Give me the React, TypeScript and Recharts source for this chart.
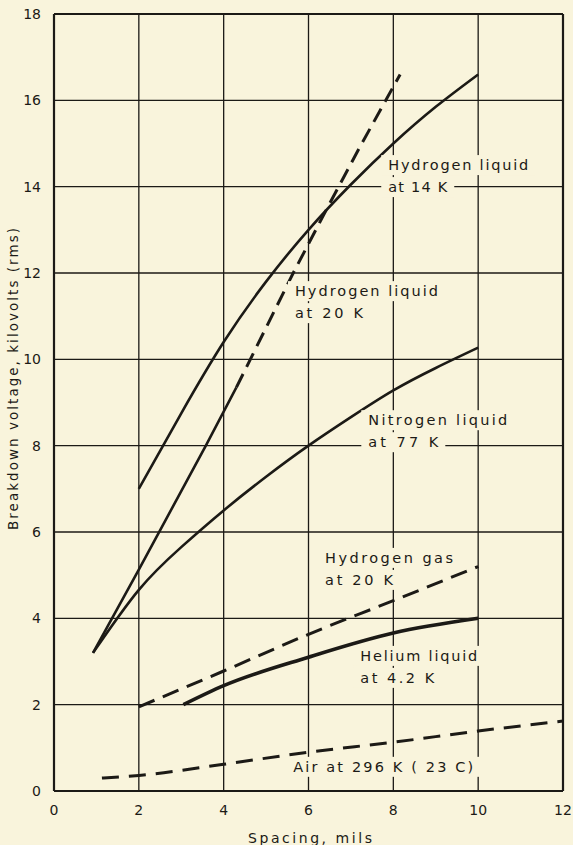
import React from 'react';
import { LineChart, Line, XAxis, YAxis, CartesianGrid, ReferenceLine, ReferenceDot, Label } from 'recharts';

const PAPER = '#f9f4dc';
const INK = '#1c1a16';
const FONT = '"DejaVu Sans", "Noto Sans", sans-serif';

const xTicks = [0, 2, 4, 6, 8, 10, 12];
const yTicks = [0, 2, 4, 6, 8, 10, 12, 14, 16, 18];

// Hydrogen liquid at 14 K (solid)
const h14Spacing = [2, 3, 4, 5, 6, 7, 8, 9, 10];
const h14Voltage = [7.0, 8.75, 10.4, 11.8, 13.0, 14.05, 15.0, 15.85, 16.6];

// Hydrogen liquid at 20 K (solid part, then dashed part)
const h20SolidSpacing = [0.92, 2, 3.58, 4.3];
const h20SolidVoltage = [3.2, 5.13, 8.0, 9.35];
const h20DashSpacing = [4.3, 5.64, 6.44, 7.2, 8.16];
const h20DashVoltage = [9.35, 12.0, 13.5, 14.9, 16.6];

// Nitrogen liquid at 77 K (solid)
const n2Spacing = [0.92, 2, 3, 4, 5, 6, 7, 8, 9, 10];
const n2Voltage = [3.2, 4.66, 5.65, 6.5, 7.28, 8.0, 8.66, 9.28, 9.8, 10.27];

// Hydrogen gas at 20 K (dashed)
const h2gasSpacing = [2, 4, 6, 8, 10];
const h2gasVoltage = [1.95, 2.78, 3.63, 4.41, 5.2];

// Helium liquid at 4.2 K (thick solid)
const heSpacing = [3.05, 4, 6, 8, 10];
const heVoltage = [2.0, 2.44, 3.1, 3.66, 4.0];

// Air at 296 K (dashed)
const airSpacing = [1.13, 2, 4, 6, 8, 10, 12];
const airVoltage = [0.3, 0.36, 0.62, 0.9, 1.13, 1.39, 1.62];

const zip = (xs: number[], ys: number[]) => xs.map((x, i) => ({ x, y: ys[i] }));

const h14Data = zip(h14Spacing, h14Voltage);
const h20SolidData = zip(h20SolidSpacing, h20SolidVoltage);
const h20DashData = zip(h20DashSpacing, h20DashVoltage);
const n2Data = zip(n2Spacing, n2Voltage);
const h2gasData = zip(h2gasSpacing, h2gasVoltage);
const heData = zip(heSpacing, heVoltage);
const airData = zip(airSpacing, airVoltage);

type LabelLine = { text: string; w: number };
type Annot = { x: number; y: number; lines: LabelLine[] };

const annotations: Annot[] = [
  { x: 7.88, y: 14.5, lines: [{ text: 'Hydrogen liquid', w: 140 }, { text: 'at 14 K', w: 59 }] },
  { x: 5.68, y: 11.58, lines: [{ text: 'Hydrogen liquid', w: 143 }, { text: 'at 20 K', w: 68 }] },
  { x: 7.41, y: 8.59, lines: [{ text: 'Nitrogen liquid', w: 139 }, { text: 'at 77 K', w: 70 }] },
  { x: 6.39, y: 5.4, lines: [{ text: 'Hydrogen gas', w: 128 }, { text: 'at 20 K', w: 68 }] },
  { x: 7.22, y: 3.13, lines: [{ text: 'Helium liquid', w: 117 }, { text: 'at 4.2 K', w: 74 }] },
  { x: 5.64, y: 0.56, lines: [{ text: 'Air at 296 K ( 23 C)', w: 180 }] },
];

const makeShape = (lines: LabelLine[]) => (props: any) => {
  const { cx, cy } = props;
  return (
    <g>
      {lines.map((ln, i) => {
        const yy = cy + i * 22;
        return (
          <g key={i}>
            <rect x={cx - 7} y={yy - 10} width={ln.w + 14} height={20} fill={PAPER} />
            <text
              x={cx}
              y={yy}
              dy="0.36em"
              textLength={ln.w}
              lengthAdjust="spacing"
              fontFamily={FONT}
              fontSize={14.5}
              fill={INK}
            >
              {ln.text}
            </text>
          </g>
        );
      })}
    </g>
  );
};

const tickStyle = { fontFamily: FONT, fontSize: 14, fill: INK };

export default function App() {
  return (
    <div style={{ position: 'absolute', left: 0, top: 0, width: 573, height: 845, background: PAPER }}>
      <LineChart width={573} height={845} data={h14Data} margin={{ top: 14, right: 10, bottom: 0, left: 0 }}>
        <CartesianGrid stroke={INK} strokeWidth={1.3} fill="none" />
        <XAxis
          type="number"
          dataKey="x"
          domain={[0, 12]}
          ticks={xTicks}
          height={54}
          tickLine={false}
          tickMargin={8}
          axisLine={{ stroke: INK, strokeWidth: 2.2 }}
          tick={tickStyle}
          allowDataOverflow
        >
          <Label
            content={() => (
              <text x={310} y={838} dy="0.36em" textAnchor="middle" textLength={124} lengthAdjust="spacing" fontFamily={FONT} fontSize={14} fill={INK}>
                Spacing, mils
              </text>
            )}
          />
        </XAxis>
        <YAxis
          type="number"
          dataKey="y"
          domain={[0, 18]}
          ticks={yTicks}
          width={54}
          tickLine={false}
          tickMargin={7}
          axisLine={{ stroke: INK, strokeWidth: 2.2 }}
          tick={tickStyle}
          allowDataOverflow
        >
          <Label
            content={() => (
              <text
                x={13}
                y={379}
                dy="0.36em"
                textAnchor="middle"
                transform="rotate(-90 13 379)"
                textLength={302}
                lengthAdjust="spacing"
                fontFamily={FONT}
                fontSize={13.5}
                fill={INK}
              >
                Breakdown voltage, kilovolts (rms)
              </text>
            )}
          />
        </YAxis>
        <ReferenceLine y={18} stroke={INK} strokeWidth={2.2} />
        <ReferenceLine x={12} stroke={INK} strokeWidth={2.2} />
        {annotations.map((a, i) => (
          <ReferenceDot key={i} x={a.x} y={a.y} r={0} shape={makeShape(a.lines)} />
        ))}
        <Line data={h14Data} dataKey="y" type="natural" stroke={INK} strokeWidth={2.6} dot={false} isAnimationActive={false} />
        <Line data={h20SolidData} dataKey="y" type="linear" stroke={INK} strokeWidth={2.6} dot={false} isAnimationActive={false} />
        <Line data={h20DashData} dataKey="y" type="linear" stroke={INK} strokeWidth={3} strokeDasharray="15 8" dot={false} isAnimationActive={false} />
        <Line data={n2Data} dataKey="y" type="natural" stroke={INK} strokeWidth={2.6} dot={false} isAnimationActive={false} />
        <Line data={h2gasData} dataKey="y" type="monotone" stroke={INK} strokeWidth={3} strokeDasharray="17 9" dot={false} isAnimationActive={false} />
        <Line data={heData} dataKey="y" type="monotone" stroke={INK} strokeWidth={3.6} dot={false} isAnimationActive={false} />
        <Line data={airData} dataKey="y" type="monotone" stroke={INK} strokeWidth={3} strokeDasharray="17 10" dot={false} isAnimationActive={false} />
      </LineChart>
    </div>
  );
}
